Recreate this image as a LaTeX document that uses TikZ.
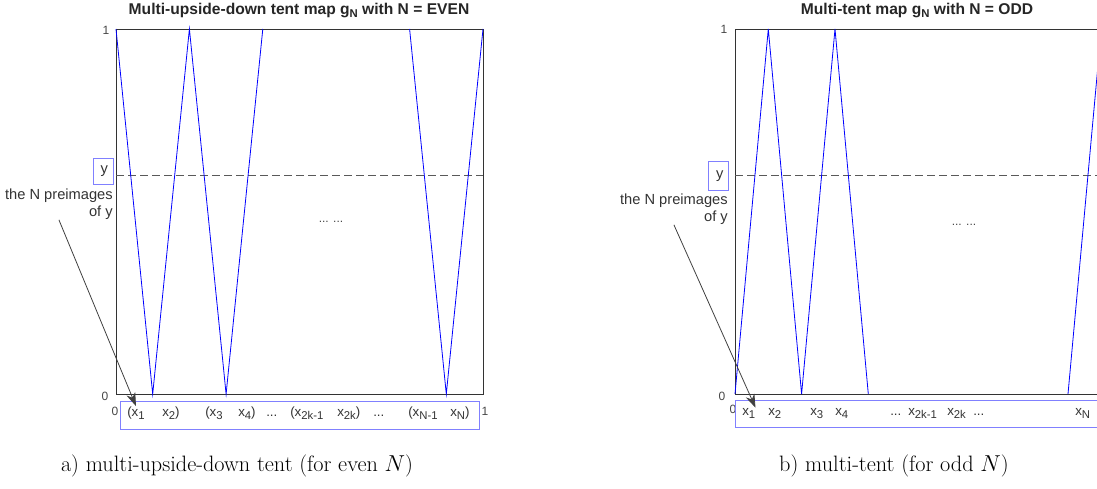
\documentclass[tikz,border=0pt]{standalone}
\usepackage{fontspec}
\setsansfont{Liberation Sans}
\usepackage{xcolor}
\usetikzlibrary{arrows.meta,positioning}

\definecolor{plotblue}{RGB}{0,0,255}
\definecolor{boxblue}{RGB}{128,128,255}
\definecolor{tickgray}{RGB}{70,70,70}

% matlab-like lowered subscript
\newcommand{\lowsub}[1]{\raisebox{-0.45ex}{\fontsize{8.5}{9}\selectfont #1}}

\begin{document}
\begin{tikzpicture}[
    x=0.75pt, y=-0.75pt,
    axisbox/.style={draw=black!80, line width=0.6pt},
    curve/.style={draw=plotblue, line width=0.6pt},
    level/.style={draw=black!65, dash pattern=on 6pt off 3pt, line width=0.5pt},
    tick/.style={font=\sffamily\fontsize{9}{10}\selectfont, text=tickgray, inner sep=0pt},
    ttl/.style={font=\sffamily\bfseries\fontsize{11.7}{13}\selectfont, text=black!85, inner sep=0pt},
    note/.style={font=\sffamily\fontsize{11}{12.5}\selectfont, text=black!80,
                 align=right, inner sep=0pt},
    ybox/.style={draw=boxblue, line width=0.6pt, font=\sffamily\fontsize{11}{12}\selectfont,
                 text=black!80, minimum width=15pt, minimum height=20pt, inner sep=0pt},
    xbox/.style={draw=boxblue, line width=0.6pt, anchor=north west, inner sep=0pt},
    xlab/.style={font=\sffamily\fontsize{10}{11}\selectfont, text=black!80,
                 anchor=base west, inner sep=0pt},
    arr/.style={-{Stealth[length=10pt, width=7pt]}, draw=black!75, line width=0.6pt},
    caption/.style={font=\fontsize{16.7}{19}\selectfont, inner sep=0pt}
]
\clip (0,0) rectangle (1097,489);

% ── Panel a: multi-upside-down tent (N even) ──
\node[ttl, anchor=base] (titleL) at (299,14)
    {Multi-upside-down tent map g\lowsub{N} with N = EVEN};
\draw[axisbox] (116,29) rectangle (483,394);
\draw[level] (116,175) -- (483,175);
\draw[curve] (116,29) -- (152.7,394) -- (189.4,29) -- (226.1,394) -- (262.8,29);
\draw[curve] (409.6,29) -- (446.3,394) -- (483,29);
\node[tick] (oneL) at (106,30) {1};
\node[tick] (zeroL) at (105,396) {0};
\node[tick] (leftL) at (115,411) {0};
\node[tick] (rightL) at (485,411) {1};
\node[tick] (dotsL) at (331,222) {... ...};

\node[ybox] (yL) at (103,171.5) {\,y};
\node[note, anchor=north east] (noteL) at (113,189) {the N preimages\\of y};

\node[xbox, minimum width=269pt, minimum height=21pt] (xboxL) at (120,401) {};
\node[xlab] (x1L) at (127,416) {(x\lowsub{1}};
\node[xlab] (x2L) at (162,416) {x\lowsub{2})};
\node[xlab] (x3L) at (205,416) {(x\lowsub{3}};
\node[xlab] (x4L) at (238,416) {x\lowsub{4})};
\node[xlab] (d1L) at (266,416) {...};
\node[xlab] (x5L) at (290,416) {(x\lowsub{2k-1}};
\node[xlab] (x6L) at (337,416) {x\lowsub{2k})};
\node[xlab] (d2L) at (373,416) {...};
\node[xlab] (x7L) at (408,416) {(x\lowsub{N-1}};
\node[xlab] (x8L) at (450,416) {x\lowsub{N})};

\draw[arr] (noteL.south) -- (x1L.north);

\node[caption] (capL) at (237,466) {a) multi-upside-down tent (for even $N$)};

% ── Panel b: multi-tent (N odd) ──
\node[ttl, anchor=base] (titleR) at (917,14)
    {Multi-tent map g\lowsub{N} with N = ODD};
\draw[axisbox] (735,394) -- (735,29) -- (1101.3,29) -- (1101.3,394) -- cycle;
\draw[level] (735,175) -- (1101.3,175);
\draw[curve] (735,394) -- (768.3,29) -- (801.6,394) -- (835,29) -- (868.3,394);
\draw[curve] (1068,394) -- (1101.3,29);
\node[tick] (oneR) at (724,29) {1};
\node[tick] (zeroR) at (722,396) {0};
\node[tick] (leftR) at (733,409) {0};
\node[tick] (dotsR) at (964,225) {... ...};

\node[ybox, minimum height=22pt] (yR) at (718.5,176) {\,y};
\node[note, anchor=north east] (noteR) at (728,194) {the N preimages\\of y};

\node[xbox, minimum width=275pt, minimum height=20pt] (xboxR) at (735,400) {};
\node[xlab] (x1R) at (742,415) {x\lowsub{1}};
\node[xlab] (x2R) at (768,415) {x\lowsub{2}};
\node[xlab] (x3R) at (810,415) {x\lowsub{3}};
\node[xlab] (x4R) at (835,415) {x\lowsub{4}};
\node[xlab] (d1R) at (890,415) {...};
\node[xlab] (x5R) at (908,415) {x\lowsub{2k-1}};
\node[xlab] (x6R) at (947,415) {x\lowsub{2k}};
\node[xlab] (d2R) at (973,415) {...};
\node[xlab] (xNR) at (1075,415) {x\lowsub{N}};

\draw[arr] (noteR.south) -- (x1R.north east);

\node[caption] (capR) at (894,466) {b) multi-tent (for odd $N$)};

\end{tikzpicture}
\end{document}
